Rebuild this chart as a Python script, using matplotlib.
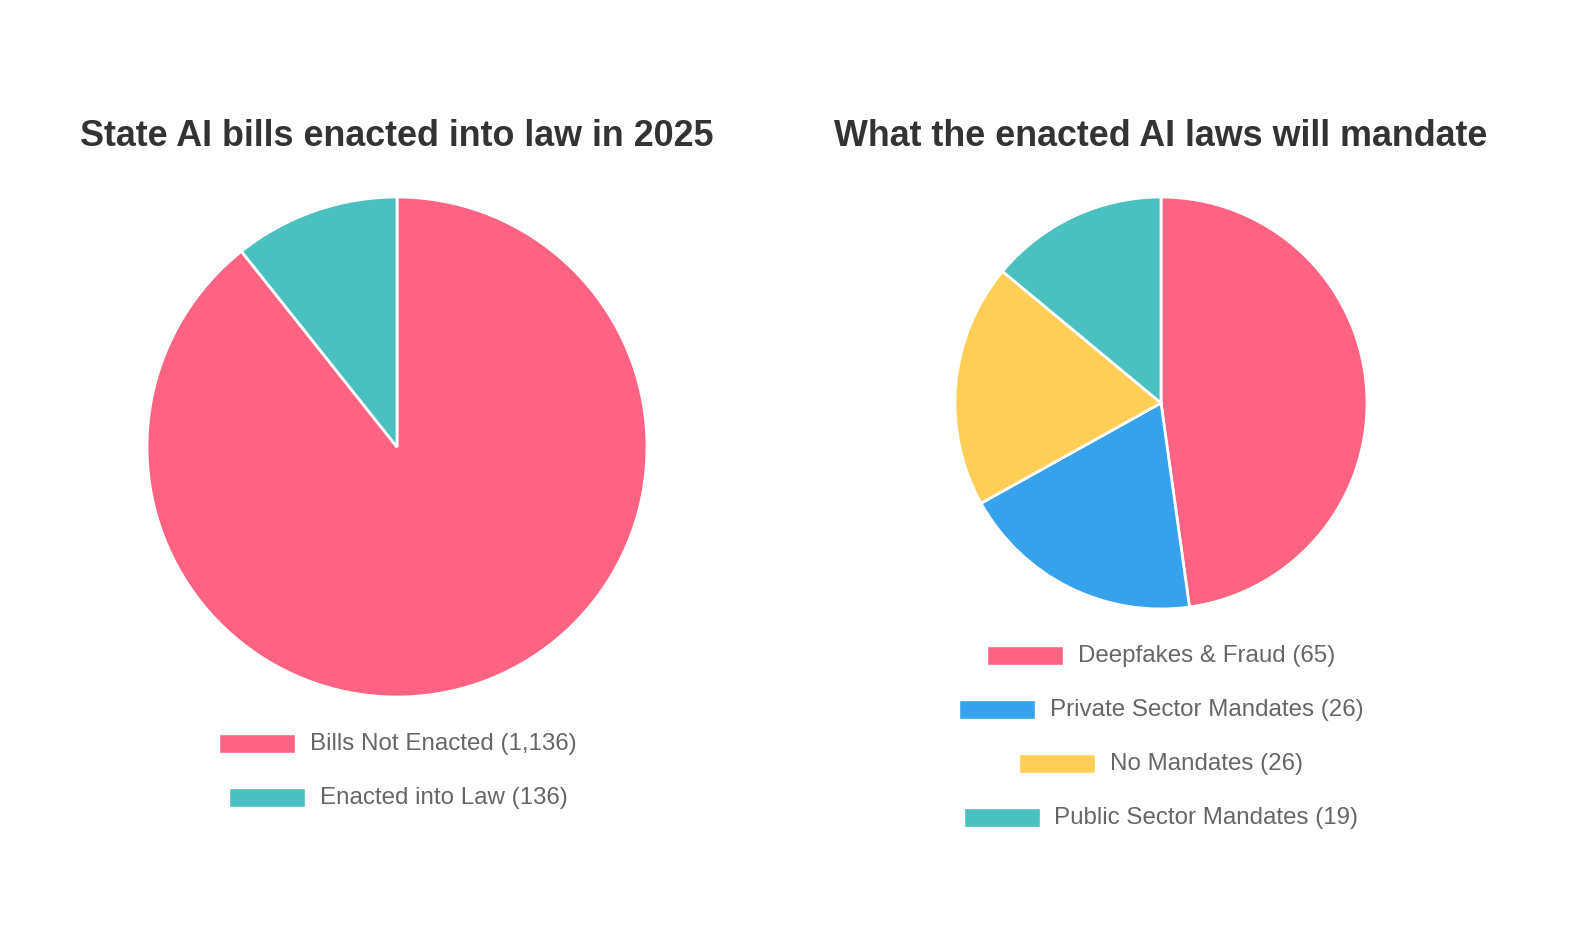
import matplotlib
matplotlib.use('Agg')
import matplotlib.pyplot as plt
from matplotlib.patches import Rectangle

W, H = 1572, 930

# data
left_title = "State AI bills enacted into law in 2025"
left_labels = ["Bills Not Enacted", "Enacted into Law"]
left_values = [1136, 136]
left_colors = ["#FF6384", "#4BC0C0"]

right_title = "What the enacted AI laws will mandate"
right_labels = ["Deepfakes & Fraud", "Private Sector Mandates", "No Mandates", "Public Sector Mandates"]
right_values = [65, 26, 26, 19]
right_colors = ["#FF6384", "#36A2EB", "#FFCE56", "#4BC0C0"]

plt.rcParams['font.family'] = ['Liberation Sans', 'DejaVu Sans']

fig = plt.figure(figsize=(W / 100, H / 100), dpi=100)
fig.patch.set_facecolor('white')
renderer = fig.canvas.get_renderer()


def fx(x):
    return x / W


def fy(y):
    return 1 - y / H


def draw_pie(cx, cy, r, values, colors):
    pad = 1.02
    ax = fig.add_axes([fx(cx - r * pad), fy(cy + r * pad), 2 * r * pad / W, 2 * r * pad / H])
    ax.pie(values, colors=colors, startangle=90, counterclock=False, radius=1,
           wedgeprops=dict(edgecolor='white', linewidth=2))
    ax.set_xlim(-pad, pad)
    ax.set_ylim(-pad, pad)
    ax.set_aspect('auto')
    ax.axis('off')


def draw_legend(cx, y0, labels, values, colors, step=54):
    for i, (lab, val, col) in enumerate(zip(labels, values, colors)):
        y = y0 + i * step
        t = fig.text(0, fy(y), f"{lab} ({val:,})", fontsize=17.4, color='#666666',
                     ha='left', va='center')
        tw = t.get_window_extent(renderer).width
        box_w, gap = 76, 15
        total = box_w + gap + tw
        x0 = cx - total / 2
        fig.patches.append(Rectangle((fx(x0), fy(y - 1 + 9.5)), box_w / W, 19 / H,
                                     transform=fig.transFigure, facecolor=col,
                                     edgecolor='white', linewidth=1))
        t.set_x(fx(x0 + box_w + gap))


fig.text(fx(397), fy(136), left_title, fontsize=25.8, fontweight='bold',
         color='#333333', ha='center', va='center')
fig.text(fx(1161), fy(136), right_title, fontsize=25.8, fontweight='bold',
         color='#333333', ha='center', va='center')

draw_pie(397, 447, 250, left_values, left_colors)
draw_pie(1161, 403, 206, right_values, right_colors)

draw_legend(398, 744, left_labels, left_values, left_colors)
draw_legend(1161, 656, right_labels, right_values, right_colors)

fig.savefig('out.png', dpi=100, facecolor='white')
